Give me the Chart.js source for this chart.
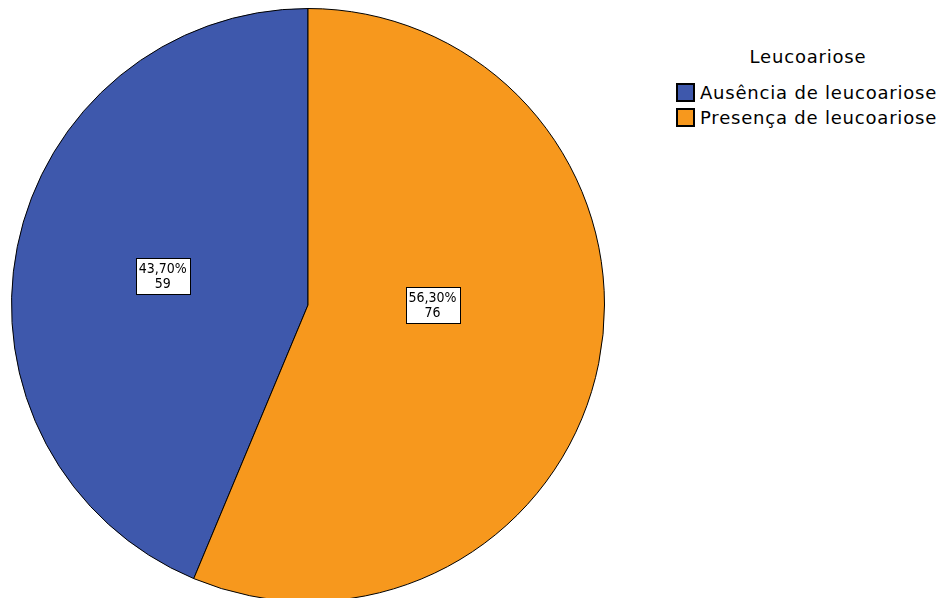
<!DOCTYPE html>
<html>
<head>
<meta charset="utf-8">
<script src="https://cdn.jsdelivr.net/npm/chart.js@4.4.1/dist/chart.umd.min.js"></script>
<style>
  html, body { margin: 0; padding: 0; background: #fff; overflow: hidden; width: 946px; height: 598px; }
  #wrap { position: absolute; left: 0; top: 0; width: 616px; height: 610px; }
  #legenda { position: absolute; left: 676px; top: 46px; font-family: "DejaVu Sans", sans-serif; font-size: 18px; letter-spacing: 0.8px; color: #000; }
  #legenda .titulo { text-align: center; margin-bottom: 13px; width: 264px; }
  #legenda .item { display: flex; align-items: center; height: 25px; white-space: nowrap; }
  #legenda .cor { width: 19px; height: 19px; border: 2px solid #000; margin-right: 5px; box-sizing: border-box; }
</style>
</head>
<body>
<div id="wrap"><canvas id="grafico"></canvas></div>
<div id="legenda"></div>

<script>
// Dados
const titulo = 'Leucoariose';
const categorias = ['Ausência de leucoariose', 'Presença de leucoariose'];
const contagens = [59, 76];
const percentuais = ['43,70%', '56,30%'];
const cores = ['#3e58ac', '#f7981d'];

// Legenda em HTML
const leg = document.getElementById('legenda');
leg.innerHTML = `<div class="titulo">${titulo}</div>` + categorias.map((c, i) => `
  <div class="item"><span class="cor" style="background:${cores[i]}"></span>${c}</div>
`).join('');

// Rótulos com caixa branca dentro das fatias
const rotulos = {
  id: 'rotulos',
  afterDatasetsDraw(chart, args, opts) {
    const ctx = chart.ctx;
    const meta = chart.getDatasetMeta(0);
    ctx.save();
    ctx.font = '14px "DejaVu Sans Condensed", "DejaVu Sans", sans-serif';
    ctx.textAlign = 'center';
    ctx.textBaseline = 'middle';
    meta.data.forEach((arc, i) => {
      const p = arc.getProps(['x', 'y', 'startAngle', 'endAngle', 'outerRadius']);
      const ajuste = opts.ancoras[i] || {};
      const ang = ajuste.angulo !== undefined ? ajuste.angulo : (p.startAngle + p.endAngle) / 2;
      const dist = (ajuste.dist || 0.5) * p.outerRadius;
      const x = p.x + Math.cos(ang) * dist;
      const y = p.y + Math.sin(ang) * dist;
      const linhas = [percentuais[i], String(contagens[i])];
      const w = Math.max(...linhas.map(l => ctx.measureText(l).width)) + 6;
      const h = 36;
      const bx = Math.round(x - w / 2) + 0.5;
      const by = Math.round(y - h / 2) + 0.5;
      ctx.fillStyle = '#fff';
      ctx.fillRect(bx, by, Math.round(w), h);
      ctx.strokeStyle = '#000';
      ctx.lineWidth = 1;
      ctx.strokeRect(bx, by, Math.round(w), h);
      ctx.fillStyle = '#000';
      ctx.fillText(linhas[0], x, y - 7);
      ctx.fillText(linhas[1], x, y + 8);
    });
    ctx.restore();
  }
};

new Chart(document.getElementById('grafico'), {
  type: 'pie',
  data: {
    labels: categorias,
    datasets: [{
      data: contagens,
      backgroundColor: cores,
      borderColor: '#000',
      borderWidth: 1
    }]
  },
  options: {
    responsive: true,
    maintainAspectRatio: false,
    animation: false,
    rotation: -360 * contagens[0] / (contagens[0] + contagens[1]),
    layout: { padding: { left: 11, right: 11, top: 8, bottom: 8 } },
    plugins: {
      legend: { display: false },
      tooltip: { enabled: false },
      rotulos: { ancoras: [{ dist: 0.5 }, { dist: 0.42, angulo: 0 }] }
    }
  },
  plugins: [rotulos]
});
</script>
</body>
</html>
